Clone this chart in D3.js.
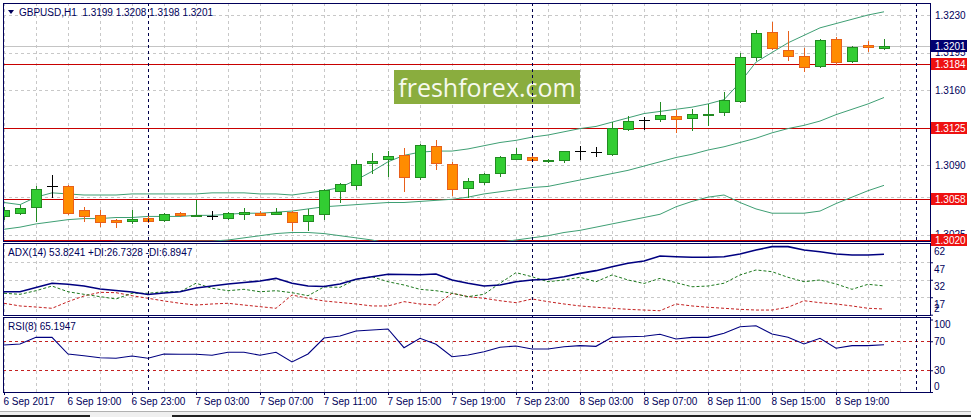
<!DOCTYPE html>
<html>
<head>
<meta charset="utf-8">
<script src="https://cdn.jsdelivr.net/npm/d3@7/dist/d3.min.js"></script>
<style>
	body { margin: 0; background: #fff; }
	svg { display: block; }
	text { font-family: "Liberation Sans", Arial, sans-serif; font-size: 10px; fill: #00005a; }
</style>
</head>
<body>
<svg id="chart" width="971" height="417"></svg>
<script>
// GBPUSD H1, bars from 6 Sep 2017 15:00 to 8 Sep 22:00

const barOpen  = [1.3042,1.3045,1.3051,1.3070,1.3070,1.3048,1.3043,1.3039,1.3038,1.3041,1.3039,1.3045,1.3042,1.3042,1.3041,1.3044,
	1.3045,1.3044,1.3046,1.3038,1.3044,1.3066,1.3071,1.3092,1.3096,1.3099,1.3079,1.3108,1.3091,1.3069,1.3074,1.3083,
	1.3096,1.3097,1.3094,1.3095,1.3103,1.3102,1.3100,1.3124,1.3132,1.3133,1.3136,1.3134,1.3137,1.3139,1.3150,1.3191,
	1.3214,1.3197,1.3192,1.3182,1.3208,1.3187,1.3202,1.3199];
const barHigh  = [1.3051,1.3053,1.3070,1.3081,1.3071,1.3051,1.3048,1.3040,1.3048,1.3042,1.3045,1.3046,1.3057,1.3047,1.3046,1.3050,
	1.3047,1.3050,1.3047,1.3049,1.3068,1.3073,1.3095,1.3101,1.3103,1.3106,1.3110,1.3113,1.3093,1.3078,1.3083,1.3098,
	1.3106,1.3098,1.3096,1.3103,1.3108,1.3107,1.3130,1.3136,1.3135,1.3149,1.3141,1.3142,1.3147,1.3158,1.3195,1.3216,
	1.3223,1.3215,1.3199,1.3208,1.3209,1.3201,1.3206,1.3208];
const barLow   = [1.3040,1.3044,1.3038,1.3060,1.3044,1.3038,1.3033,1.3032,1.3036,1.3037,1.3038,1.3042,1.3042,1.3040,1.3040,1.3040,
	1.3043,1.3044,1.3029,1.3029,1.3040,1.3055,1.3068,1.3083,1.3080,1.3066,1.3077,1.3086,1.3062,1.3060,1.3072,1.3080,
	1.3096,1.3094,1.3093,1.3093,1.3096,1.3098,1.3099,1.3123,1.3124,1.3131,1.3121,1.3123,1.3127,1.3137,1.3149,1.3188,
	1.3198,1.3188,1.3178,1.3181,1.3184,1.3186,1.3196,1.3198];
const barClose = [1.3048,1.3050,1.3068,1.3070,1.3045,1.3042,1.3037,1.3037,1.3040,1.3038,1.3044,1.3043,1.3043,1.3042,1.3045,1.3046,
	1.3043,1.3046,1.3037,1.3043,1.3067,1.3072,1.3091,1.3094,1.3098,1.3079,1.3109,1.3092,1.3068,1.3075,1.3082,1.3097,
	1.3100,1.3095,1.3095,1.3103,1.3103,1.3102,1.3125,1.3131,1.3132,1.3137,1.3133,1.3138,1.3138,1.3151,1.3191,1.3213,
	1.3199,1.3192,1.3181,1.3207,1.3186,1.3200,1.3200,1.3201];

// Bollinger bands
const bandUpper = [1.3055,1.3053,1.3060,1.3064,1.3063,1.3062,1.3062,1.3062,1.3063,1.3063,1.3063,1.3063,1.3063,1.3064,1.3064,1.3064,
	1.3063,1.3063,1.3062,1.3064,1.3066,1.3069,1.3076,1.3084,1.3093,1.3099,1.3102,1.3103,1.3103,1.3105,1.3108,1.3111,
	1.3113,1.3116,1.3118,1.3121,1.3124,1.3126,1.3130,1.3134,1.3138,1.3140,1.3142,1.3144,1.3147,1.3151,1.3167,1.3186,
	1.3195,1.3204,1.3211,1.3218,1.3222,1.3226,1.3230,1.3233];
const bandMiddle = [1.3030,1.3032,1.3035,1.3037,1.3039,1.3040,1.3040,1.3041,1.3041,1.3042,1.3042,1.3042,1.3043,1.3043,1.3044,1.3045,
	1.3045,1.3046,1.3047,1.3049,1.3051,1.3052,1.3053,1.3054,1.3055,1.3055,1.3056,1.3057,1.3058,1.3060,1.3063,1.3065,
	1.3067,1.3069,1.3070,1.3073,1.3076,1.3079,1.3082,1.3085,1.3089,1.3093,1.3097,1.3100,1.3104,1.3107,1.3111,1.3115,
	1.3120,1.3124,1.3127,1.3131,1.3137,1.3142,1.3147,1.3153];
const bandLower = [1.3005,1.3010,1.3010,1.3010,1.3014,1.3017,1.3018,1.3019,1.3019,1.3019,1.3019,1.3019,1.3019,1.3019,1.3020,1.3022,
	1.3024,1.3026,1.3027,1.3027,1.3026,1.3024,1.3022,1.3020,1.3017,1.3012,1.3011,1.3011,1.3013,1.3014,1.3016,1.3018,
	1.3020,1.3022,1.3024,1.3027,1.3029,1.3032,1.3035,1.3038,1.3041,1.3044,1.3051,1.3056,1.3060,1.3062,1.3055,1.3049,
	1.3045,1.3045,1.3045,1.3047,1.3054,1.3060,1.3066,1.3071];

// ADX(14)
const adxMain = [21.7,21.7,25.3,29.0,28.1,26.6,24.1,22.8,21.5,19.3,20.6,21.7,24.9,26.6,28.4,29.6,
	30.9,33.2,29.0,26.6,26.2,28.4,32.4,34.6,36.7,36.5,36.3,36.9,31.8,29.0,26.6,27.5,
	30.3,31.8,32.4,34.6,37.5,39.8,43.2,46.1,48.1,52.4,51.8,51.3,51.3,51.8,54.1,57.5,
	60.4,60.4,57.5,56.1,54.1,53.2,53.2,53.8241];
const adxPlusDI = [20.4,19.5,22.6,26.6,21.7,19.5,17.5,15.5,20.4,20.4,21.7,21.7,29.0,24.7,22.6,23.8,
	21.7,22.6,20.9,18.3,25.8,25.5,32.4,34.6,30.3,27.5,23.8,22.6,20.4,17.5,19.5,29.0,
	38.1,34.6,30.3,31.8,34.1,30.3,36.1,31.8,28.8,33.2,29.5,26.0,26.6,29.0,36.1,40.4,
	38.9,34.1,30.3,31.8,28.4,23.8,28.1,26.7328];
const adxMinusDI = [11.8,9.5,8.6,7.5,13.2,18.1,21.2,20.9,18.3,16.1,13.8,11.8,10.3,11.2,11.8,10.3,
	8.9,7.5,18.9,16.1,13.8,12.5,11.2,9.5,9.5,13.2,11.2,10.3,20.4,17.5,16.1,14.0,
	12.3,15.5,13.2,11.2,9.5,8.4,7.5,6.6,6.0,5.4,11.2,9.5,8.4,7.5,6.6,6.0,
	6.0,8.4,14.0,12.3,11.2,9.5,7.5,6.8947];

// RSI(8)
const rsiValues = [64.8,66.2,75.4,75.4,52.4,50.1,47.3,46.5,49.7,46.5,52.4,52.0,52.0,50.6,54.8,54.8,
	50.6,54.8,41.4,52.4,74.5,77.2,84.1,85.5,86.9,61.1,74.1,65.8,48.7,51.0,55.6,61.7,
	63.4,59.3,59.3,62.5,63.9,63.0,75.4,76.3,76.8,79.6,73.1,75.4,75.4,81.0,90.1,91.4,
	80.0,75.4,66.2,74.1,60.3,63.9,63.9,65.1947];

const levelPrices = [1.3184, 1.3125, 1.3058, 1.3020];
const bidPrice = 1.3201;
const priceGrid = [1.3230, 1.3195, 1.3160, 1.3125, 1.3090, 1.3060, 1.3025];
const priceLabels = [1.3230, 1.3195, 1.3160, 1.3090, 1.3025]; // the others sit under the level tags
const adxTicks = [62, 47, 32, 17, 2];
const adxGrid = [47, 32, 17];
const rsiTicks = [100, 70, 30, 0];
const rsiLevels = [70, 30];
const timeLabels = ["6 Sep 2017","6 Sep 19:00","6 Sep 23:00","7 Sep 03:00","7 Sep 07:00","7 Sep 11:00","7 Sep 15:00",
	"7 Sep 19:00","7 Sep 23:00","8 Sep 03:00","8 Sep 07:00","8 Sep 11:00","8 Sep 15:00","8 Sep 19:00"];

const titleText = "GBPUSD,H1  1.3199 1.3208 1.3198 1.3201";
const adxTitle = "ADX(14) 53.8241 +DI:26.7328 -DI:6.8947";
const rsiTitle = "RSI(8) 65.1947";

// one bar per hour
const barTimes = d3.timeHour.range(new Date(2017, 8, 6, 15), new Date(2017, 8, 8, 23));
const separators = [new Date(2017, 8, 7), new Date(2017, 8, 8), new Date(2017, 8, 9)];
const gridTimes = d3.timeHour.range(barTimes[0], new Date(2017, 8, 9, 2), 2);
const tickTimes = barTimes.filter((d, i) => i % 4 == 0);

const bars = barTimes.map((t, i) => ({
	t: t, o: barOpen[i], h: barHigh[i], l: barLow[i], c: barClose[i]
}));

// layout
const left = 3, right = 930;
const main = {top: 3, bottom: 241};
const adxP = {top: 243, bottom: 315};
const rsiP = {top: 317, bottom: 392};

const x = d3.scaleTime().domain([barTimes[0], barTimes[barTimes.length - 1]]).range([4, 884]);
const priceY = d3.scaleLinear().domain([1.3020, 1.3230]).range([240, 15]);
const adxY = d3.scaleLinear().domain([2, 62]).range([314.7, 244.8]);
const rsiY = d3.scaleLinear().domain([0, 100]).range([392, 319.5]);

const svg = d3.select("#chart");
const defs = svg.append("defs");

function addClip(id, p){
	defs.append("clipPath").attr("id", id)
		.append("rect")
		.attr("x", left).attr("y", p.top)
		.attr("width", right - left).attr("height", p.bottom - p.top);
}
addClip("clip-main", main);
addClip("clip-adx", adxP);
addClip("clip-rsi", rsiP);

// bottom tab strip
svg.append("rect").attr("x", 0).attr("y", 411).attr("width", 971).attr("height", 6).attr("fill", "#efefef");
svg.append("line").attr("x1", 0).attr("x2", 971).attr("y1", 411.5).attr("y2", 411.5).attr("stroke", "#b0b0b0");
svg.selectAll(".tab").data([[0, 90], [172, 971]]).join("rect")
	.attr("x", d => d[0]).attr("y", 415).attr("width", d => d[1] - d[0]).attr("height", 2)
	.attr("fill", "#202020");

function panel(p, clipId){
	let g = svg.append("g").attr("clip-path", "url(#" + clipId + ")");
	// vertical grid every 2 bars
	g.selectAll(".vgrid").data(gridTimes).join("line")
		.attr("x1", d => Math.round(x(d)) + 0.5).attr("x2", d => Math.round(x(d)) + 0.5)
		.attr("y1", p.top).attr("y2", p.bottom)
		.attr("stroke", "#c8c8c8").attr("stroke-dasharray", "3,3");
	return g;
}

function hgrid(g, values, yScale){
	g.selectAll(".hgrid").data(values).join("line")
		.attr("x1", left).attr("x2", right)
		.attr("y1", d => Math.round(yScale(d)) + 0.5).attr("y2", d => Math.round(yScale(d)) + 0.5)
		.attr("stroke", "#c8c8c8").attr("stroke-dasharray", "3,3");
}

// ---- main price panel
let gMain = panel(main, "clip-main");
hgrid(gMain, priceGrid, priceY);

gMain.append("line")
	.attr("x1", left).attr("x2", right)
	.attr("y1", Math.round(priceY(bidPrice)) + 0.5).attr("y2", Math.round(priceY(bidPrice)) + 0.5)
	.attr("stroke", "#c4c4c4");

gMain.selectAll(".level").data(levelPrices).join("line")
	.attr("x1", left).attr("x2", right)
	.attr("y1", d => Math.round(priceY(d)) + 0.5).attr("y2", d => Math.round(priceY(d)) + 0.5)
	.attr("stroke", "#c80000");

// watermark
gMain.append("rect")
	.attr("x", 394).attr("y", 70).attr("width", 186).attr("height", 34)
	.attr("fill", "#8aad3e");
gMain.append("text")
	.attr("x", 487).attr("y", 96.5)
	.attr("text-anchor", "middle")
	.style("font-family", "'Open Sans', sans-serif")
	.style("font-size", "25px")
	.style("fill", "#f6f9ee")
	.text("freshforex.com");

let bandLine = d3.line()
	.x((d, i) => x(barTimes[i]))
	.y(d => priceY(d));

gMain.selectAll(".band").data([bandUpper, bandMiddle, bandLower]).join("path")
	.attr("d", d => bandLine(d))
	.attr("fill", "none")
	.attr("stroke", "#3f9f74")
	.attr("stroke-width", 1);

// candles
let candle = gMain.selectAll(".candle").data(bars).join("g")
	.attr("transform", d => "translate(" + Math.round(x(d.t)) + ",0)");

candle.append("line")
	.attr("x1", 0.5).attr("x2", 0.5)
	.attr("y1", d => Math.round(priceY(d.h)))
	.attr("y2", d => Math.round(priceY(d.l)) + 1)
	.attr("stroke", d => d.o == d.c ? "#000" : (d.c > d.o ? "#228b22" : "#e8601a"));

candle.filter(d => d.o != d.c).append("rect")
	.attr("x", -4.5).attr("width", 10)
	.attr("y", d => Math.round(priceY(Math.max(d.o, d.c))) + 0.5)
	.attr("height", d => Math.max(1, Math.round(priceY(Math.min(d.o, d.c))) - Math.round(priceY(Math.max(d.o, d.c)))))
	.attr("fill", d => d.c > d.o ? "#32cd32" : "#ff8c00")
	.attr("stroke", d => d.c > d.o ? "#228b22" : "#e8601a")
	.attr("shape-rendering", "crispEdges");

candle.filter(d => d.o == d.c).append("line")
	.attr("x1", -5).attr("x2", 6)
	.attr("y1", d => Math.round(priceY(d.o)) + 0.5).attr("y2", d => Math.round(priceY(d.o)) + 0.5)
	.attr("stroke", "#000");

// ---- ADX panel
let gAdx = panel(adxP, "clip-adx");
hgrid(gAdx, adxGrid, adxY);

let adxLine = d3.line().x((d, i) => x(barTimes[i])).y(d => adxY(d));
gAdx.append("path").attr("d", adxLine(adxMinusDI))
	.attr("fill", "none").attr("stroke", "#c42020").attr("stroke-dasharray", "3,2");
gAdx.append("path").attr("d", adxLine(adxPlusDI))
	.attr("fill", "none").attr("stroke", "#1f7a1f").attr("stroke-dasharray", "3,2");
gAdx.append("path").attr("d", adxLine(adxMain))
	.attr("fill", "none").attr("stroke", "#000080").attr("stroke-width", 1.6);

// ---- RSI panel
let gRsi = panel(rsiP, "clip-rsi");
gRsi.selectAll(".rlevel").data(rsiLevels).join("line")
	.attr("x1", left).attr("x2", right)
	.attr("y1", d => Math.round(rsiY(d)) + 0.5).attr("y2", d => Math.round(rsiY(d)) + 0.5)
	.attr("stroke", "#c42020").attr("stroke-dasharray", "3,3");

let rsiLine = d3.line().x((d, i) => x(barTimes[i])).y(d => rsiY(d));
gRsi.append("path").attr("d", rsiLine(rsiValues))
	.attr("fill", "none").attr("stroke", "#000080").attr("stroke-width", 1.1);

// day separators through all panels
svg.selectAll(".sep").data(separators).join("line")
	.attr("x1", d => Math.round(x(d)) + 0.5).attr("x2", d => Math.round(x(d)) + 0.5)
	.attr("y1", main.top).attr("y2", rsiP.bottom)
	.attr("stroke", "#00004a").attr("stroke-dasharray", "3,3");

// panel borders
[main, adxP, rsiP].forEach(p => {
	svg.append("rect")
		.attr("x", left + 0.5).attr("y", p.top + 0.5)
		.attr("width", right - left).attr("height", p.bottom - p.top)
		.attr("fill", "none").attr("stroke", "#00005a");
});

// panel titles
svg.append("path")
	.attr("d", "M8,10 L14,10 L11,14 Z")
	.attr("fill", "#00005a");
svg.append("text").attr("x", 19).attr("y", 16).style("white-space", "pre").text(titleText);
svg.append("text").attr("x", 8).attr("y", 256).text(adxTitle);
svg.append("text").attr("x", 8).attr("y", 330).text(rsiTitle);

// price axis
let yAxisMain = svg.append("g")
	.attr("transform", "translate(" + right + ",0)")
	.call(d3.axisRight(priceY).tickValues(priceLabels).tickFormat(d3.format(".4f")).tickSize(0).tickPadding(5));

let adxAxis = svg.append("g")
	.attr("transform", "translate(" + right + ",0)")
	.call(d3.axisRight(adxY).tickValues(adxTicks).tickSize(3).tickPadding(1));
adxAxis.selectAll(".tick text")
	.attr("y", d => Math.min(7, (adxP.bottom - 7) - adxY(d)));

let rsiAxis = svg.append("g")
	.attr("transform", "translate(" + right + ",0)")
	.call(d3.axisRight(rsiY).tickValues(rsiTicks).tickSize(3).tickPadding(1));
rsiAxis.selectAll(".tick text")
	.attr("y", d => Math.max(rsiP.top + 7, Math.min(rsiP.bottom - 6, rsiY(d))) - rsiY(d));

let xAxis = svg.append("g")
	.attr("transform", "translate(0," + rsiP.bottom + ")")
	.call(d3.axisBottom(x).tickValues(tickTimes).tickFormat((d, i) => timeLabels[i]).tickSize(3).tickPadding(3));
xAxis.selectAll(".tick text").attr("text-anchor", "start").attr("x", -1);

[yAxisMain, adxAxis, rsiAxis, xAxis].forEach(a => {
	a.attr("font-family", null).attr("font-size", null);
	a.select(".domain").remove();
	a.selectAll(".tick line").attr("stroke", "#00005a");
	a.selectAll(".tick text").style("fill", "#00005a");
});

// level and bid labels on the price scale
let tags = levelPrices.map(p => ({p: p, bg: "#ee1111"})).concat([{p: bidPrice, bg: "#000070"}]);
let tag = svg.selectAll(".tag").data(tags).join("g")
	.attr("transform", d => "translate(931," + Math.round(priceY(d.p)) + ")");
tag.append("rect")
	.attr("x", 0).attr("y", -6).attr("width", 36).attr("height", 12)
	.attr("fill", d => d.bg);
tag.append("text")
	.attr("x", 4).attr("y", 4)
	.style("fill", "#fff")
	.text(d => d3.format(".4f")(d.p));
</script>
</body>
</html>
